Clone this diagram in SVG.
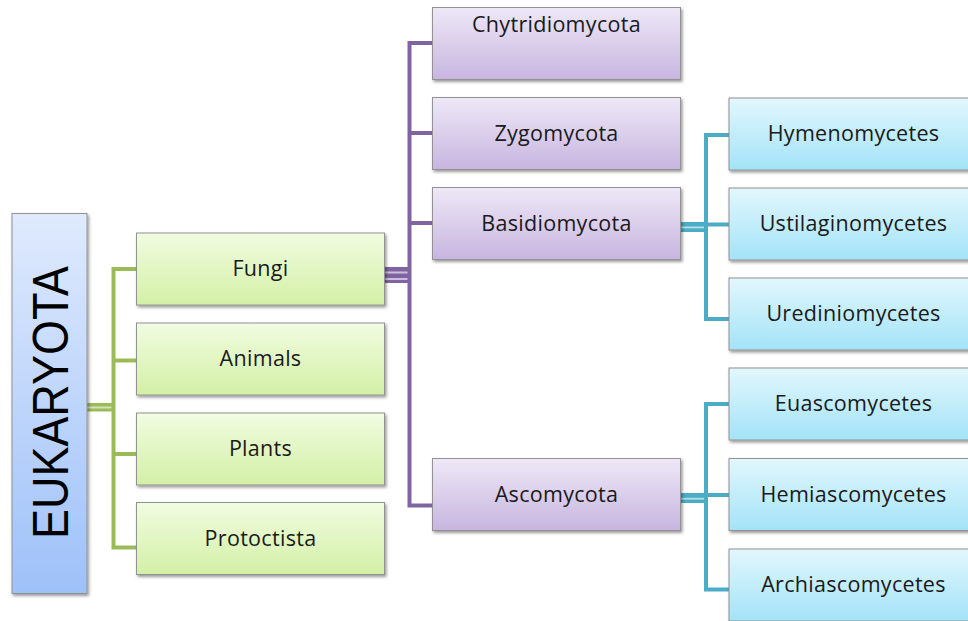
<svg xmlns="http://www.w3.org/2000/svg" width="968" height="621" viewBox="0 0 968 621">
<defs>
<linearGradient id="gBlue" x1="0" y1="0" x2="0" y2="1"><stop offset="0" stop-color="#dfeafd"/><stop offset="1" stop-color="#9ec1f9"/></linearGradient>
<linearGradient id="gGreen" x1="0" y1="0" x2="0" y2="1"><stop offset="0" stop-color="#f1fce1"/><stop offset="1" stop-color="#d3f0a6"/></linearGradient>
<linearGradient id="gPurple" x1="0" y1="0" x2="0" y2="1"><stop offset="0" stop-color="#eee8f7"/><stop offset="1" stop-color="#c8b5e0"/></linearGradient>
<linearGradient id="gCyan" x1="0" y1="0" x2="0" y2="1"><stop offset="0" stop-color="#e2f7fd"/><stop offset="1" stop-color="#a3e3f8"/></linearGradient>
<filter id="sh" x="-10%" y="-10%" width="125%" height="130%"><feDropShadow dx="1.5" dy="2" stdDeviation="1.5" flood-color="#000" flood-opacity="0.4"/></filter>
</defs>
<style>
.box{stroke:#929292;stroke-width:1;filter:url(#sh)}
.lbl{font-family:"Open Sans","Noto Sans",sans-serif;font-size:21.5px;letter-spacing:0.3px;fill:#1a1a1a;text-anchor:middle}
.ln{fill:none;stroke-width:4}
.g{stroke:#9bbb59}.p{stroke:#8064a2}.c{stroke:#4bacc6}
</style>
<rect width="968" height="621" fill="#ffffff"/>
<g id="connectors">
<path class="ln g" d="M136.5,269 H113.5 V547.5 H136.5 M113.5,360.5 H136.5 M113.5,454 H136.5"/>
<rect x="87" y="403" width="26.5" height="8.5" fill="#9bbb59"/>
<rect x="87" y="406.5" width="24.5" height="2" fill="#d4e4b8"/>
<path class="ln p" d="M432.5,43 H409.5 V505.5 H432.5 M409.5,133 H432.5 M409.5,223 H432.5"/>
<rect x="384" y="267" width="25.5" height="16" fill="#8064a2"/>
<rect x="384" y="271.5" width="23.5" height="2" fill="#cbbfdc"/>
<rect x="384" y="278" width="23.5" height="2" fill="#cbbfdc"/>
<path class="ln c" d="M729,135 H706 V319 H729 M706,224.5 H729"/>
<rect x="680.5" y="222" width="25.5" height="10" fill="#4bacc6"/>
<rect x="680.5" y="226.5" width="23.5" height="1.8" fill="#b5e0ea"/>
<path class="ln c" d="M729,404 H706 V589.5 H729 M706,495 H729"/>
<rect x="680.5" y="493" width="25.5" height="10" fill="#4bacc6"/>
<rect x="680.5" y="497.8" width="23.5" height="1.8" fill="#b5e0ea"/>
</g>
<g id="eukaryota">
<rect class="box" x="12" y="213.5" width="75" height="380" fill="url(#gBlue)"/>
<text transform="translate(67.5,402.5) rotate(-90)" x="0" y="0" text-anchor="middle" font-family="Liberation Sans, Arial, sans-serif" font-size="50" fill="#000" textLength="273" lengthAdjust="spacingAndGlyphs">EUKARYOTA</text>
</g>
<g id="fungi"><rect class="box" x="136.5" y="233" width="248" height="72" fill="url(#gGreen)"/><text class="lbl" x="260.5" y="276">Fungi</text></g>
<g id="animals"><rect class="box" x="136.5" y="323" width="248" height="72" fill="url(#gGreen)"/><text class="lbl" x="260.5" y="366">Animals</text></g>
<g id="plants"><rect class="box" x="136.5" y="413" width="248" height="72" fill="url(#gGreen)"/><text class="lbl" x="260.5" y="456">Plants</text></g>
<g id="protoctista"><rect class="box" x="136.5" y="502.5" width="248" height="72" fill="url(#gGreen)"/><text class="lbl" x="260.5" y="546">Protoctista</text></g>
<g id="chytridiomycota"><rect class="box" x="432.5" y="7.5" width="248" height="72" fill="url(#gPurple)"/><text class="lbl" x="556.5" y="32">Chytridiomycota</text></g>
<g id="zygomycota"><rect class="box" x="432.5" y="97.5" width="248" height="72" fill="url(#gPurple)"/><text class="lbl" x="556.5" y="140.5">Zygomycota</text></g>
<g id="basidiomycota"><rect class="box" x="432.5" y="187.5" width="248" height="72" fill="url(#gPurple)"/><text class="lbl" x="556.5" y="230.5">Basidiomycota</text></g>
<g id="ascomycota"><rect class="box" x="432.5" y="458.5" width="248" height="72" fill="url(#gPurple)"/><text class="lbl" x="556.5" y="501.5">Ascomycota</text></g>
<g id="hymenomycetes"><rect class="box" x="729" y="98" width="252" height="72" fill="url(#gCyan)"/><text class="lbl" x="853.5" y="141">Hymenomycetes</text></g>
<g id="ustilaginomycetes"><rect class="box" x="729" y="188" width="252" height="72" fill="url(#gCyan)"/><text class="lbl" x="853.5" y="231">Ustilaginomycetes</text></g>
<g id="urediniomycetes"><rect class="box" x="729" y="278" width="252" height="72" fill="url(#gCyan)"/><text class="lbl" x="853.5" y="321">Urediniomycetes</text></g>
<g id="euascomycetes"><rect class="box" x="729" y="368" width="252" height="72" fill="url(#gCyan)"/><text class="lbl" x="853.5" y="411">Euascomycetes</text></g>
<g id="hemiascomycetes"><rect class="box" x="729" y="458.5" width="252" height="72" fill="url(#gCyan)"/><text class="lbl" x="853.5" y="501.5">Hemiascomycetes</text></g>
<g id="archiascomycetes"><rect class="box" x="729" y="549" width="252" height="72" fill="url(#gCyan)"/><text class="lbl" x="853.5" y="591.5">Archiascomycetes</text></g>
</svg>
